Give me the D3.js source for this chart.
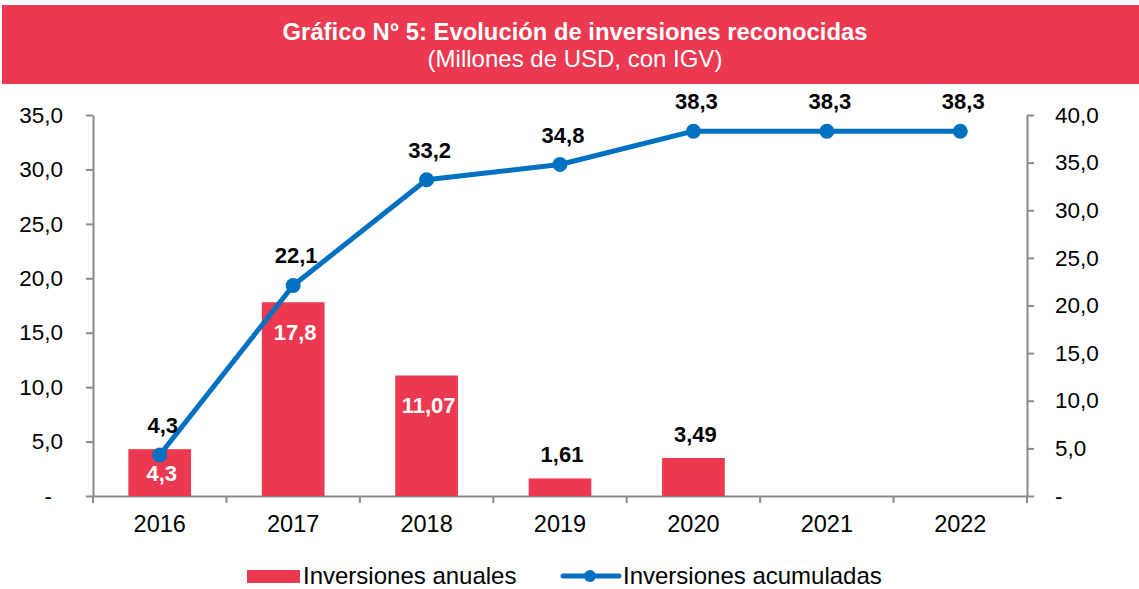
<!DOCTYPE html>
<html><head><meta charset="utf-8">
<script src="https://cdn.jsdelivr.net/npm/d3@7"></script>
<style>
body{margin:0;background:#fff}
svg{display:block;font-family:"Liberation Sans",Arial,sans-serif}
</style>
</head><body>
<svg id="c" width="1139" height="589"></svg>
<script>
// ---- data ----
const categories = ["2016","2017","2018","2019","2020","2021","2022"];
const annual = [4.3, 17.8, 11.07, 1.61, 3.49, null, null];
const cumulative = [4.3, 22.1, 33.2, 34.8, 38.3, 38.3, 38.3];
const leftTicks = [0, 5, 10, 15, 20, 25, 30, 35];
const rightTicks = [0, 5, 10, 15, 20, 25, 30, 35, 40];
const titleText = "Gráfico N° 5: Evolución de inversiones reconocidas";
const subtitleText = "(Millones de USD, con IGV)";
const legendNames = ["Inversiones anuales", "Inversiones acumuladas"];

// ---- styles ----
const RED = "#EA3950", BLUE = "#0070C0", AXIS = "#8A8A8A";
const svg = d3.select("#c");

// title band
svg.append("rect").attr("x", 2).attr("y", 5).attr("width", 1137).attr("height", 79).attr("fill", RED);
svg.append("text").attr("x", 575).attr("y", 40).attr("text-anchor", "middle")
  .attr("fill", "#fff").attr("font-weight", "bold").attr("font-size", 23.8).text(titleText);
svg.append("text").attr("x", 575).attr("y", 67).attr("text-anchor", "middle")
  .attr("fill", "#fff").attr("font-size", 24).text(subtitleText);

// scales
const x = d3.scaleBand().domain(categories).range([93, 1027]).padding(0);
const yL = d3.scaleLinear().domain([0, 35]).range([496, 115]);
const yR = d3.scaleLinear().domain([0, 40]).range([496, 115]);
const fmtTick = d => d === 0 ? "-" : d3.format(".1f")(d).replace(".", ",");
const fmtVal = d => String(d).replace(".", ",");
const cx = c => x(c) + x.bandwidth() / 2;

function styleAxis(g, fs) {
  g.selectAll("path,line").attr("stroke", AXIS).attr("stroke-width", 2);
  g.selectAll("text").attr("font-size", fs).attr("fill", "#000").attr("font-family", '"Liberation Sans",Arial,sans-serif');
}

// left axis
const gL = svg.append("g").attr("transform", "translate(93,0)")
  .call(d3.axisLeft(yL).tickValues(leftTicks).tickSize(7).tickSizeOuter(0).tickPadding(23).tickFormat(fmtTick));
styleAxis(gL, 22.5);
gL.selectAll(".tick").filter(d => d === 0).select("text").attr("dx", -11);

// right axis
const gR = svg.append("g").attr("transform", "translate(1027,0)")
  .call(d3.axisRight(yR).tickValues(rightTicks).tickSize(7).tickSizeOuter(0).tickPadding(21).tickFormat(fmtTick));
styleAxis(gR, 22.5);

// bottom axis
const gB = svg.append("g").attr("transform", "translate(0,496)")
  .call(d3.axisBottom(x).tickSize(0).tickPadding(19));
styleAxis(gB, 23.5);
const bounds = categories.map(c => x(c)).concat([x.range()[1]]);
svg.append("g").selectAll("line").data(bounds).join("line")
  .attr("x1", d => d).attr("x2", d => d).attr("y1", 496).attr("y2", 503)
  .attr("stroke", AXIS).attr("stroke-width", 2);

// bars
const bw = x.bandwidth() * 0.47;
const barData = categories.map((c, i) => ({c, v: annual[i]})).filter(d => d.v != null);
svg.append("g").selectAll("rect").data(barData).join("rect")
  .attr("x", d => cx(d.c) - bw / 2).attr("width", bw)
  .attr("y", d => yL(d.v)).attr("height", d => yL(0) - yL(d.v))
  .attr("fill", RED);

// bar labels
svg.append("g").selectAll("text").data(barData).join("text")
  .attr("x", d => cx(d.c) + 2)
  .attr("y", d => {
    const top = yL(d.v), bot = yL(0);
    if (d.v >= 4) return Math.min(top + 38, (top + bot) / 2 + 8);
    return top - 16;
  })
  .attr("text-anchor", "middle").attr("font-weight", "bold").attr("font-size", 22)
  .attr("fill", d => d.v >= 4 ? "#fff" : "#000")
  .text(d => fmtVal(d.v));

// line
const lineData = categories.map((c, i) => ({c, v: cumulative[i]}));
svg.append("path").datum(lineData)
  .attr("d", d3.line().x(d => cx(d.c)).y(d => yR(d.v)))
  .attr("fill", "none").attr("stroke", BLUE).attr("stroke-width", 5).attr("stroke-linejoin", "round");
svg.append("g").selectAll("circle").data(lineData).join("circle")
  .attr("cx", d => cx(d.c)).attr("cy", d => yR(d.v)).attr("r", 7.5).attr("fill", BLUE);
svg.append("g").selectAll("text").data(lineData).join("text")
  .attr("x", d => cx(d.c) + 3).attr("y", d => yR(d.v) - 22)
  .attr("text-anchor", "middle").attr("font-weight", "bold").attr("font-size", 22).attr("fill", "#000")
  .text(d => fmtVal(d.v));

// legend
const lg = svg.append("g");
lg.append("rect").attr("x", 247).attr("y", 570).attr("width", 53).attr("height", 13).attr("fill", RED);
lg.append("text").attr("x", 303).attr("y", 584).attr("font-size", 24).attr("fill", "#000").text(legendNames[0]);
lg.append("line").attr("x1", 563).attr("x2", 619).attr("y1", 576).attr("y2", 576)
  .attr("stroke", BLUE).attr("stroke-width", 5).attr("stroke-linecap", "round");
lg.append("circle").attr("cx", 590).attr("cy", 576).attr("r", 6).attr("fill", BLUE);
lg.append("text").attr("x", 623).attr("y", 584).attr("font-size", 24).attr("fill", "#000").text(legendNames[1]);
</script>
</body></html>
